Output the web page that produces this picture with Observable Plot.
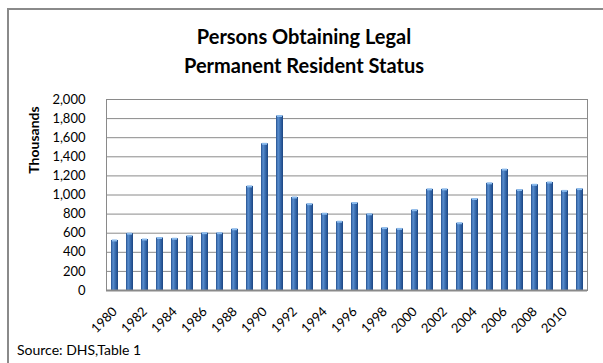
<!DOCTYPE html>
<html>
<head>
<meta charset="utf-8">
<script src="https://cdn.jsdelivr.net/npm/d3@7"></script>
<script src="https://cdn.jsdelivr.net/npm/@observablehq/plot@0.6"></script>
<style>
  html, body { margin: 0; padding: 0; background: #fff; }
  body { width: 603px; height: 363px; position: relative; overflow: hidden; font-family: Lato, "Open Sans", sans-serif; color: #000; }
  #frame { position: absolute; left: 7px; top: 8px; width: 700px; height: 400px;
           border-left: 2px solid #8a8a8a; border-top: 2px solid #8a8a8a; }
  #title { position: absolute; left: 7px; width: 594px; top: 22px; text-align: center;
           font-weight: bold; font-size: 20px; line-height: 29px; }
  #ylabel { position: absolute; left: 33px; top: 140px; transform: translate(-50%, -50%) rotate(-90deg);
            font-weight: bold; font-size: 14px; white-space: nowrap; }
  #caption { position: absolute; left: 17px; top: 341px; font-size: 14px; }
  #chart { position: absolute; left: 0; top: 80px; }
</style>
</head>
<body>
<svg width="0" height="0" style="position:absolute">
  <defs>
    <linearGradient id="barGrad" x1="0" y1="0" x2="1" y2="0">
      <stop offset="0%" stop-color="#24508e"/>
      <stop offset="30%" stop-color="#5a8fd0"/>
      <stop offset="55%" stop-color="#3e72b4"/>
      <stop offset="100%" stop-color="#1b4582"/>
    </linearGradient>
  </defs>
</svg>
<div id="frame"></div>
<div id="title">Persons Obtaining Legal<br>Permanent Resident Status</div>
<div id="ylabel">Thousands</div>
<div id="chart"></div>
<div id="caption">Source: DHS,Table 1</div>
<script>
// Persons obtaining lawful permanent resident status, in thousands
const years = [1980, 1981, 1982, 1983, 1984, 1985, 1986, 1987, 1988, 1989,
               1990, 1991, 1992, 1993, 1994, 1995, 1996, 1997, 1998, 1999,
               2000, 2001, 2002, 2003, 2004, 2005, 2006, 2007, 2008, 2009,
               2010, 2011];
const persons = [524, 595, 534, 550, 542, 568, 600, 600, 641, 1090,
                 1536, 1827, 974, 904, 804, 720, 916, 798, 653, 645,
                 841, 1059, 1059, 704, 958, 1122, 1266, 1052, 1107, 1131,
                 1043, 1062];
const yTicks = [0, 200, 400, 600, 800, 1000, 1200, 1400, 1600, 1800, 2000];
const xTickYears = years.filter(y => y % 2 === 0);

const data = years.map((year, i) => ({year, value: persons[i]}));

const chart = Plot.plot({
  width: 603,
  height: 260,
  marginLeft: 106,
  marginRight: 16,
  marginTop: 19,
  marginBottom: 50,
  style: {fontFamily: "Lato, 'Open Sans', sans-serif", background: "transparent"},
  x: {type: "band", domain: years, paddingInner: 0.54, paddingOuter: 0.27, label: null},
  y: {domain: [0, 2000], label: null},
  marks: [
    Plot.gridY(yTicks, {stroke: "#8a8a8a", strokeOpacity: 1}),
    Plot.frame({stroke: "#8a8a8a"}),
    Plot.barY(data, {x: "year", y: "value", fill: "url(#barGrad)"}),
    Plot.tickY(data, {x: "year", y: "value", stroke: "#8cbcee", strokeWidth: 2, insetLeft: 1, insetRight: 1}),
    Plot.ruleY([0], {stroke: "#8a8a8a", strokeWidth: 2}),
    Plot.axisY(yTicks, {tickFormat: d3.format(","), tickSize: 0, tickPadding: 21, fontSize: 13, label: null}),
    Plot.axisX(xTickYears, {tickFormat: d => String(d), tickSize: 0, tickPadding: 19, tickRotate: -45, fontSize: 13, label: null})
  ]
});
document.getElementById("chart").appendChild(chart);
</script>
</body>
</html>
